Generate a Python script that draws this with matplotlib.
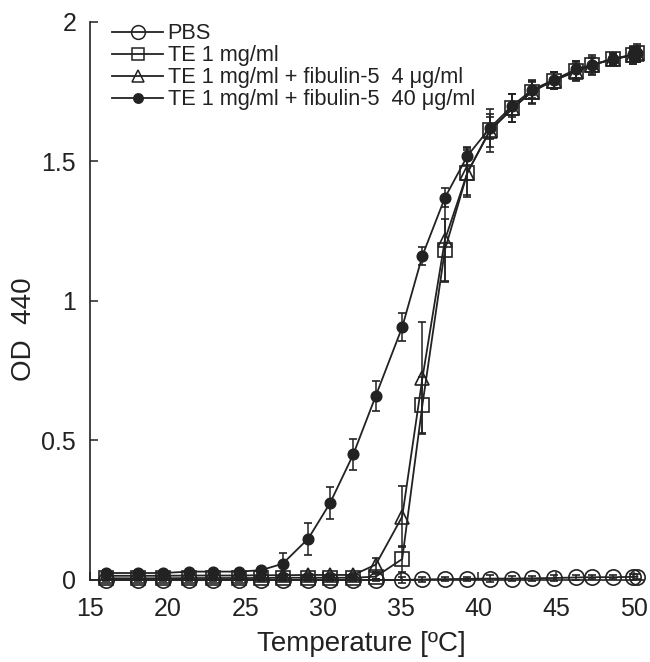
import matplotlib
matplotlib.use("Agg")
import matplotlib.pyplot as plt
from matplotlib.lines import Line2D

plt.rcParams['font.family'] = ['Liberation Sans', 'DejaVu Sans']

temps = [16.0, 18.1, 19.7, 21.4, 22.9, 24.6, 26.0, 27.4, 29.05, 30.45, 31.95, 33.4,
         35.1, 36.4, 37.85, 39.3, 40.75, 42.2, 43.45, 44.85, 46.3, 47.3, 48.65, 49.95, 50.25]

pbs = [0.0, 0.0, 0.0, 0.0, 0.0, 0.0, 0.0, 0.0, 0.0, 0.0, 0.0, 0.0,
       0.0, 0.002, 0.003, 0.004, 0.005, 0.005, 0.006, 0.007, 0.009, 0.010, 0.010, 0.011, 0.012]
pbs_err = [0.005, 0.005, 0.005, 0.005, 0.005, 0.005, 0.005, 0.005, 0.005, 0.005, 0.005, 0.005,
           0.01, 0.01, 0.008, 0.008, 0.012, 0.008, 0.008, 0.012, 0.008, 0.008, 0.008, 0.01, 0.01]

te = [0.006, 0.006, 0.006, 0.007, 0.007, 0.007, 0.007, 0.008, 0.008, 0.008, 0.008, 0.012,
      0.075, 0.627, 1.183, 1.46, 1.612, 1.69, 1.75, 1.79, 1.825, 1.845, 1.868, 1.88, 1.89]
te_err = [0.005, 0.005, 0.005, 0.005, 0.005, 0.005, 0.005, 0.005, 0.005, 0.005, 0.005, 0.01,
          0.045, 0.1, 0.11, 0.087, 0.077, 0.05, 0.043, 0.03, 0.035, 0.035, 0.02, 0.03, 0.03]

tri = [0.015, 0.015, 0.015, 0.016, 0.016, 0.016, 0.017, 0.017, 0.018, 0.018, 0.018, 0.055,
       0.227, 0.723, 1.219, 1.46, 1.61, 1.69, 1.75, 1.79, 1.822, 1.845, 1.866, 1.88, 1.885]
tri_err = [0.005, 0.005, 0.005, 0.005, 0.005, 0.005, 0.005, 0.005, 0.005, 0.005, 0.005, 0.025,
           0.11, 0.2, 0.15, 0.08, 0.06, 0.05, 0.04, 0.03, 0.03, 0.03, 0.02, 0.03, 0.03]

dots = [0.025, 0.025, 0.025, 0.03, 0.03, 0.03, 0.035, 0.058, 0.148, 0.275, 0.45, 0.66,
        0.906, 1.162, 1.37, 1.52, 1.62, 1.70, 1.756, 1.792, 1.83, 1.846, 1.866, 1.884, 1.89]
dots_err = [0.01, 0.01, 0.01, 0.01, 0.01, 0.01, 0.01, 0.04, 0.057, 0.057, 0.057, 0.054,
            0.05, 0.033, 0.035, 0.032, 0.04, 0.04, 0.03, 0.03, 0.03, 0.025, 0.02, 0.02, 0.02]

labels = ["PBS", "TE 1 mg/ml", "TE 1 mg/ml + fibulin-5  4 μg/ml",
          "TE 1 mg/ml + fibulin-5  40 μg/ml"]
xticks = [15, 20, 25, 30, 35, 40, 45, 50]
yticks = [0, 0.5, 1, 1.5, 2]
yticklabels = ["0", "0.5", "1", "1.5", "2"]

INK = '#222222'
fig = plt.figure(figsize=(6.5, 6.62), dpi=100)
ax = fig.add_axes([0.1385, 0.1239, 0.853, 0.843])

series = [
    (pbs, pbs_err, dict(marker='o', markersize=11, mfc='none')),
    (te, te_err, dict(marker='s', markersize=10, mfc='none')),
    (tri, tri_err, dict(marker='^', markersize=10, mfc='none')),
    (dots, dots_err, dict(marker='o', markersize=7.5, mfc=INK)),
]
handles = []
for (vals, errs, st), lab in zip(series, labels):
    eb = ax.errorbar(temps, vals, yerr=errs, color=INK, mec=INK,
                     lw=1.3, mew=1.2, capsize=3, elinewidth=1.1, capthick=1.1,
                     clip_on=False, **st)
    for art in eb.get_children():
        art.set_clip_on(False)
    hst = dict(st)
    hst['markersize'] = st['markersize'] * 0.9
    handles.append(Line2D([], [], color=INK, mec=INK, lw=1.3, mew=1.1, **hst))

ax.set_xlim(15, 50.7)
ax.set_ylim(0, 2)
ax.set_xticks(xticks)
ax.set_yticks(yticks)
ax.set_yticklabels(yticklabels)
for s in ['top', 'right']:
    ax.spines[s].set_visible(False)
for s in ['left', 'bottom']:
    ax.spines[s].set_linewidth(1.2)
    ax.spines[s].set_color(INK)
ax.tick_params(direction='in', length=6, width=1.1, labelsize=18, colors=INK)
ax.tick_params(axis='y', pad=10)
ax.tick_params(axis='x', pad=12)

ax.set_xlabel("Temperature [ºC]", fontsize=20, color=INK)
ax.set_ylabel("OD  440", fontsize=20, color=INK)
ax.xaxis.set_label_coords(0.49, -0.092)
ax.yaxis.set_label_coords(-0.095, 0.45)

leg = ax.legend(handles, labels, loc='upper left', bbox_to_anchor=(0.012, 1.025),
                frameon=False, fontsize=15.7, handlelength=2.35, handletextpad=0.2,
                labelspacing=0.05, borderpad=0.2)
for txt in leg.get_texts():
    txt.set_color(INK)

fig.savefig("out.png", dpi=100)
